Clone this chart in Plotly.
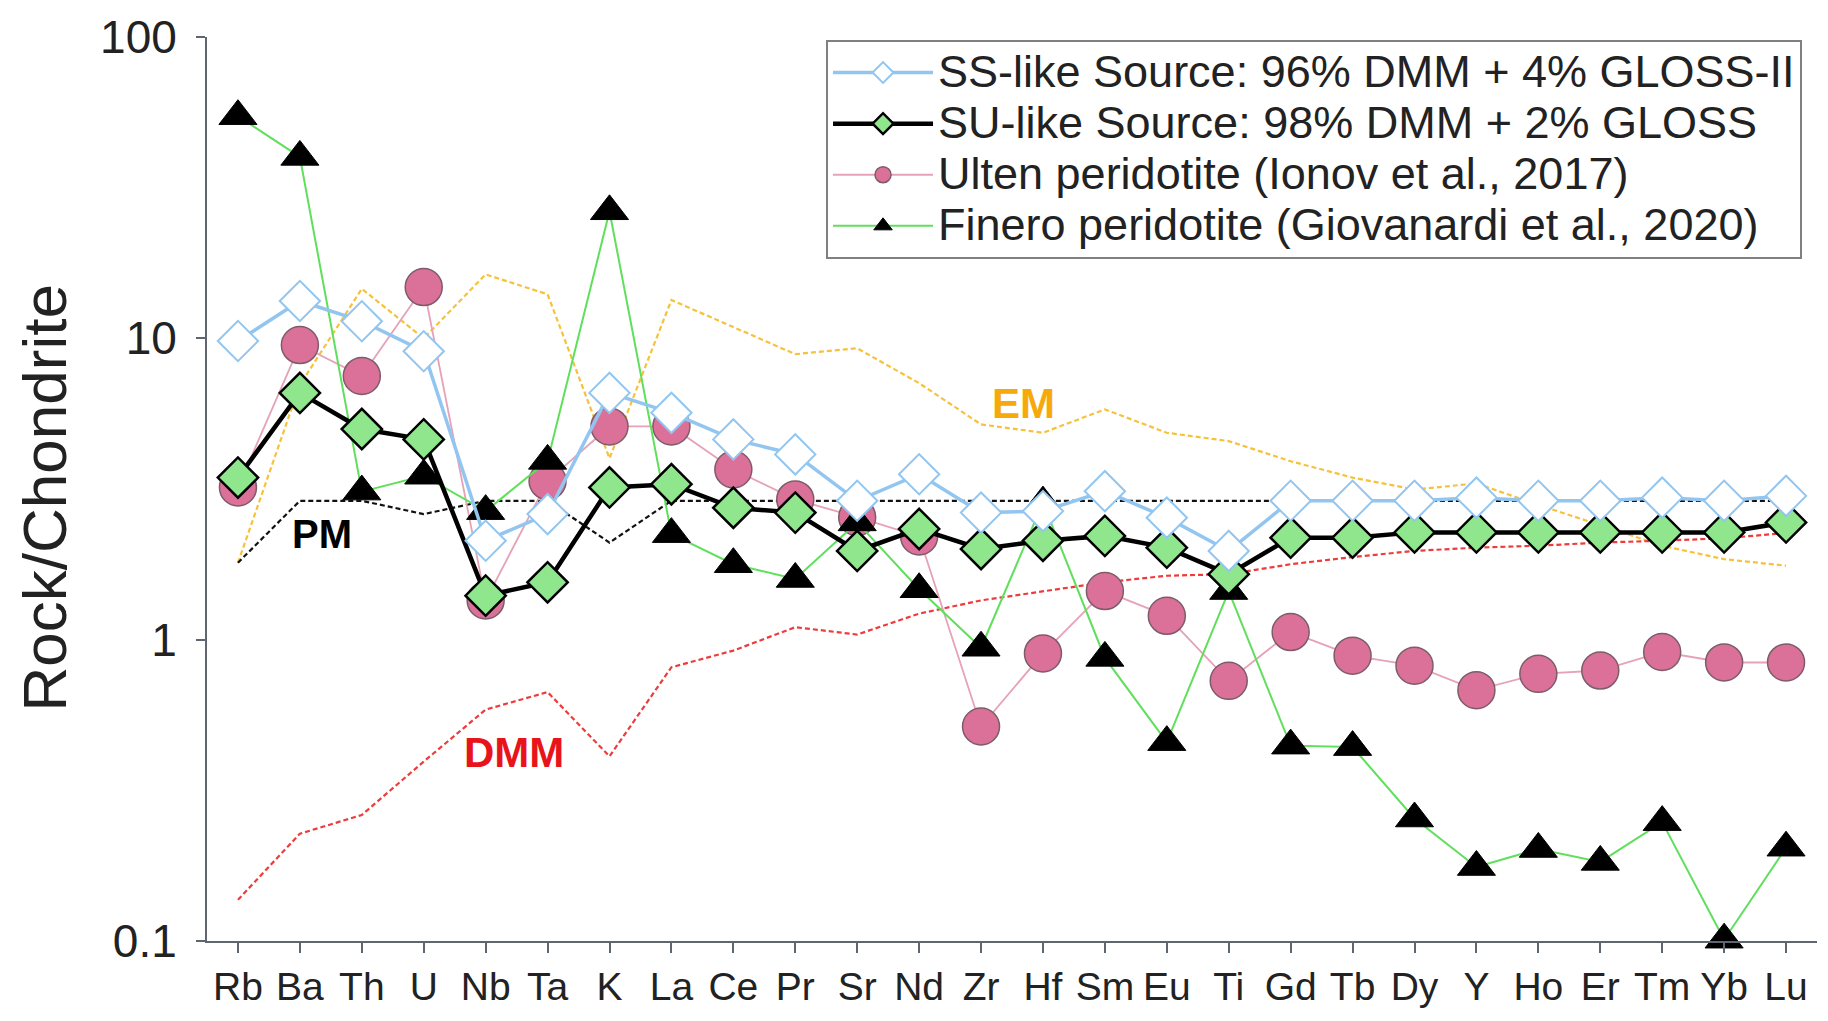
import plotly.graph_objects as go

elements = ["Rb", "Ba", "Th", "U", "Nb", "Ta", "K", "La", "Ce", "Pr", "Sr", "Nd", "Zr",
            "Hf", "Sm", "Eu", "Ti", "Gd", "Tb", "Dy", "Y", "Ho", "Er", "Tm", "Yb", "Lu"]

ss_like = [9.8, 13.3, 11.4, 9.06, 2.13, 2.61, 6.59, 5.66, 4.62, 4.12, 2.89, 3.54, 2.64,
           2.67, 3.11, 2.54, 1.97, 2.89, 2.89, 2.89, 2.96, 2.89, 2.89, 2.96, 2.89, 3.0]
su_like = [3.45, 6.59, 5.0, 4.62, 1.40, 1.55, 3.2, 3.28, 2.74, 2.64, 1.97, 2.33, 2.0,
           2.13, 2.21, 2.02, 1.65, 2.18, 2.18, 2.27, 2.27, 2.27, 2.27, 2.27, 2.27, 2.45]
ulten = [3.2, 9.5, 7.5, 14.8, 1.35, 3.36, 5.1, 5.1, 3.67, 2.92, 2.55, 2.2, 0.515,
         0.90, 1.45, 1.20, 0.73, 1.06, 0.885, 0.82, 0.68, 0.77, 0.79, 0.91, 0.84, 0.84]
finero = [54.6, 40.0, 3.1, 3.5, 2.67, 3.92, 26.4, 2.24, 1.78, 1.59, 2.45, 1.47, 0.94,
          2.85, 0.87, 0.457, 1.45, 0.445, 0.44, 0.255, 0.176, 0.202, 0.183, 0.248, 0.101, 0.204]
em = [1.8, 7.0, 14.6, 10.0, 16.3, 14.0, 4.0, 13.4, 10.9, 8.86, 9.27, 7.1, 5.18,
      4.86, 5.81, 4.86, 4.56, 3.91, 3.45, 3.15, 3.3, 2.8, 2.4, 2.05, 1.85, 1.76]
pm = [1.8, 2.89, 2.89, 2.61, 2.89, 2.89, 2.10, 2.89, 2.89, 2.89, 2.89, 2.89, 2.89,
      2.89, 2.89, 2.89, 2.89, 2.89, 2.89, 2.89, 2.89, 2.89, 2.89, 2.89, 2.89, 2.89]
dmm = [0.137, 0.227, 0.262, 0.394, 0.586, 0.67, 0.41, 0.81, 0.92, 1.10, 1.04, 1.22, 1.35,
       1.45, 1.55, 1.63, 1.65, 1.78, 1.88, 1.97, 2.02, 2.05, 2.10, 2.13, 2.17, 2.26]

y_ticks = [0.1, 1, 10, 100]
y_tick_labels = ["0.1", "1", "10", "100"]

series_names = {
    "ss": "SS-like Source: 96% DMM + 4% GLOSS-II",
    "su": "SU-like Source: 98% DMM + 2% GLOSS",
    "ulten": "Ulten peridotite (Ionov et al., 2017)",
    "finero": "Finero peridotite (Giovanardi et al., 2020)",
}

x = list(range(len(elements)))
FONT = "Liberation Sans, Arial, Helvetica, sans-serif"


def legend_label(txt):
    return '<span style="font-size:45px">' + txt + "</span>"


fig = go.Figure()

# reference reservoirs (dashed, no legend)
fig.add_trace(go.Scatter(x=x, y=em, mode="lines", showlegend=False, hoverinfo="skip",
                         line=dict(color="#f6c23c", width=2.2, dash="5px,3px")))
fig.add_trace(go.Scatter(x=x, y=pm, mode="lines", showlegend=False, hoverinfo="skip",
                         line=dict(color="#111111", width=2.2, dash="5px,3px")))
fig.add_trace(go.Scatter(x=x, y=dmm, mode="lines", showlegend=False, hoverinfo="skip",
                         line=dict(color="#ee3b3b", width=2.2, dash="5px,3px")))

# samples
fig.add_trace(go.Scatter(x=x, y=ulten, mode="lines+markers", legendrank=3,
                         name=legend_label(series_names["ulten"]),
                         line=dict(color="#e6a2b6", width=1.8),
                         marker=dict(symbol="circle", size=37, color="#db7099",
                                     line=dict(color="#7d5c69", width=1.5))))
fig.add_trace(go.Scatter(x=x, y=finero, mode="lines+markers", legendrank=4, cliponaxis=False,
                         name=legend_label(series_names["finero"]),
                         line=dict(color="#5fdf5b", width=2),
                         marker=dict(symbol="triangle-up", size=33, color="#000000",
                                     line=dict(color="#000000", width=1))))
fig.add_trace(go.Scatter(x=x, y=su_like, mode="lines+markers", legendrank=2,
                         name=legend_label(series_names["su"]),
                         line=dict(color="#000000", width=4.5),
                         marker=dict(symbol="diamond", size=31, color="#8fe68d",
                                     line=dict(color="#000000", width=2.5))))
fig.add_trace(go.Scatter(x=x, y=ss_like, mode="lines+markers", legendrank=1,
                         name=legend_label(series_names["ss"]),
                         line=dict(color="#92c6f0", width=3.5),
                         marker=dict(symbol="diamond", size=31, color="#ffffff",
                                     line=dict(color="#92c6f0", width=2))))

annotations = [
    dict(text="Rock/Chondrite", xref="paper", yref="paper", x=-0.101, y=0.49,
         textangle=-90, showarrow=False, xanchor="center", yanchor="middle",
         font=dict(family=FONT, size=62, color="#222222")),
    dict(text="<b>EM</b>", x=12.68, y=0.785, xref="x", yref="y", showarrow=False,
         font=dict(family=FONT, size=42, color="#f5a90a")),
    dict(text="<b>PM</b>", x=1.36, y=0.351, xref="x", yref="y", showarrow=False,
         font=dict(family=FONT, size=40, color="#000000")),
    dict(text="<b>DMM</b>", x=4.46, y=-0.374, xref="x", yref="y", showarrow=False,
         font=dict(family=FONT, size=42, color="#e8141b")),
]

fig.update_layout(
    width=1828, height=1021, autosize=False,
    margin=dict(l=207, r=11, t=35, b=80),
    paper_bgcolor="white", plot_bgcolor="white",
    font=dict(family=FONT, color="#222222"),
    showlegend=True,
    legend=dict(x=0.9907, y=0.9967, xanchor="right", yanchor="top",
                bgcolor="white", bordercolor="#808080", borderwidth=2,
                font=dict(family=FONT, size=37, color="#222222"),
                itemwidth=100, tracegroupgap=0),
    annotations=annotations,
    xaxis=dict(range=[-0.5, 25.5], tickmode="array", tickvals=x, ticktext=elements,
               showgrid=False, zeroline=False, showline=True, linecolor="#5f6670",
               linewidth=2, ticks="outside", ticklen=10, tickwidth=2, tickcolor="#5f6670",
               tickfont=dict(family=FONT, size=39, color="#222222")),
    yaxis=dict(type="log", range=[-1, 2], tickmode="array", tickvals=y_ticks,
               ticktext=y_tick_labels, showgrid=False, zeroline=False, showline=True,
               linecolor="#5f6670", linewidth=2, ticks="outside", ticklen=9, tickwidth=2,
               tickcolor="#5f6670", ticklabelstandoff=10,
               tickfont=dict(family=FONT, size=46, color="#222222")),
)

fig.write_html("out.html")
